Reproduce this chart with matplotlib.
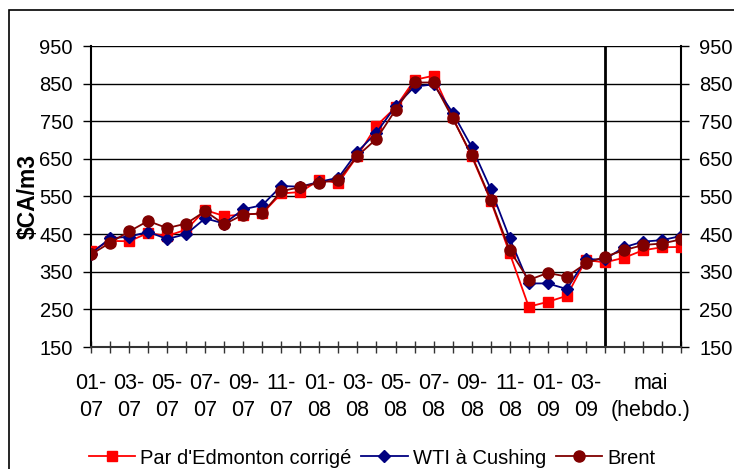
"""
Prix du brut : Par d'Edmonton corrigé, WTI à Cushing, Brent ($CA/m3)
"""
import matplotlib
matplotlib.use("Agg")
import matplotlib.pyplot as plt
from matplotlib.patches import Rectangle

plt.rcParams["font.family"] = ["Liberation Sans", "DejaVu Sans"]

# month labels (every other month) + weekly May block
labels = ["01-\n07", "03-\n07", "05-\n07", "07-\n07", "09-\n07", "11-\n07", "01-\n08",
          "03-\n08", "05-\n08", "07-\n08", "09-\n08", "11-\n08", "01-\n09", "03-\n09"]
weekly_label = "mai\n(hebdo.)"

edmonton = [405, 432, 431, 453, 445, 462, 514, 498, 502, 505, 558, 562,
            594, 586, 658, 738, 787, 860, 871, 760, 657, 539, 399, 257,
            270, 286, 381, 375, 387, 407, 415, 416]
wti = [398, 439, 443, 456, 437, 450, 492, 478, 516, 527, 578, 576,
       589, 600, 669, 720, 790, 842, 848, 773, 682, 570, 439, 319,
       319, 304, 383, 383, 415, 430, 434, 445]
brent = [396, 427, 457, 485, 466, 478, 511, 476, 502, 505, 564, 575,
         587, 594, 658, 703, 780, 853, 853, 758, 660, 542, 407, 328,
         347, 337, 372, 390, 407, 421, 425, 436]

x = list(range(len(edmonton)))
split_idx = 27  # start of weekly data

fig = plt.figure(figsize=(7.34, 4.69), dpi=100)
ax = fig.add_axes([91 / 734, 1 - 347 / 469, 590 / 734, 301 / 469])

# outer frame
fig.patches.append(Rectangle((9 / 734, -0.05), 1.2, 1 - 10 / 469 + 0.05,
                             transform=fig.transFigure, fill=False,
                             edgecolor="black", linewidth=1.2))

for v in range(150, 951, 100):
    ax.axhline(v, color="black", linewidth=1.0, zorder=1)

ax.plot(x, edmonton, color="#FF0000", marker="s", markersize=7, linewidth=1.3,
        label="Par d'Edmonton corrigé", zorder=3)
ax.plot(x, wti, color="#000080", marker="D", markersize=6, linewidth=1.3,
        label="WTI à Cushing", zorder=4)
ax.plot(x, brent, color="#800000", marker="o", markersize=8, linewidth=1.3,
        label="Brent", zorder=5)

ax.axvline(split_idx, color="black", linewidth=2.0, zorder=2)

ax.set_xlim(0, len(x) - 1)
ax.set_ylim(150, 950)
ax.set_yticks(range(150, 951, 100))

ax.spines["top"].set_visible(False)
for s in ["left", "right", "bottom"]:
    ax.spines[s].set_linewidth(1.5)
    ax.spines[s].set_color("black")
ax.spines["bottom"].set_color("#333333")

ax.tick_params(axis="y", which="major", direction="out", length=6, width=1,
               labelsize=14.5, pad=7, left=True, right=True,
               labelleft=True, labelright=True)

# tick marks at every point, labels on minor ticks
ax.xaxis.remove_overlapping_locs = False
ax.set_xticks(x)
ax.set_xticklabels([])
ax.tick_params(axis="x", which="major", direction="inout", length=9, width=1,
               color="#333333")
lab_pos = list(range(0, 27, 2)) + [29.4]
ax.set_xticks(lab_pos, minor=True)
ax.set_xticklabels(labels + [weekly_label], minor=True, fontsize=15.5,
                   linespacing=1.35)
ax.tick_params(axis="x", which="minor", length=0, pad=19)

ax.text(-0.107, 0.5, "$CA/m3", transform=ax.transAxes, rotation=90,
        ha="center", va="center", fontsize=16.5, fontweight="bold")

fig.legend(loc="center", bbox_to_anchor=(372 / 734, 1 - 458 / 469), ncol=3,
           frameon=False, fontsize=14.5, handlelength=2.3, columnspacing=0.5,
           handletextpad=0.25, borderaxespad=0)

fig.savefig("out.png", dpi=100)
